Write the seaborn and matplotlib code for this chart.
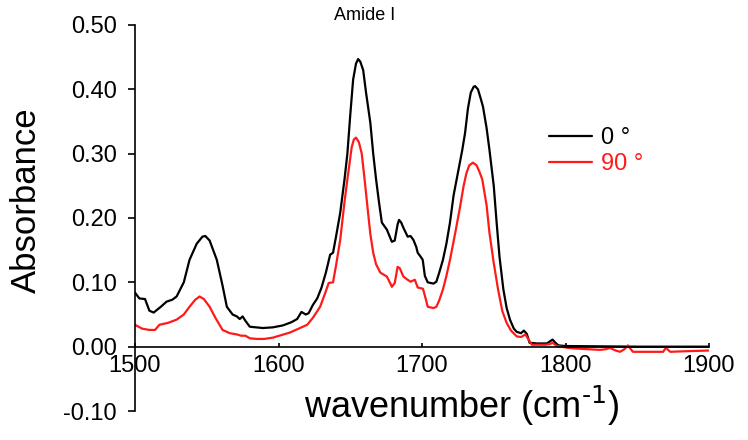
import numpy as np
import pandas as pd
import seaborn as sns
import matplotlib.pyplot as plt

# FTIR spectra (wavenumber, absorbance)
wn_0 = [1500, 1503, 1507, 1510, 1513, 1518, 1522, 1526, 1529, 1534, 1538, 1543, 1547, 1549,
        1552, 1557, 1561, 1564, 1568, 1571, 1573, 1575, 1577, 1580, 1589, 1596, 1603, 1609,
        1613, 1616, 1619, 1621, 1624, 1627, 1630, 1633, 1636, 1638, 1640, 1643, 1646, 1648,
        1650, 1652, 1654, 1655.5, 1657, 1659, 1661, 1664, 1666, 1668, 1670, 1672, 1675.5,
        1679, 1681, 1683, 1684, 1685.5, 1687, 1690, 1692, 1694, 1696, 1697, 1699, 1700.5,
        1702, 1704, 1706, 1708, 1710, 1712, 1714.6, 1717, 1719.5, 1722, 1725, 1728, 1730,
        1732, 1734, 1736, 1737, 1739, 1741, 1742.5, 1745, 1747, 1750, 1752, 1754, 1756.7,
        1759, 1761.3, 1764, 1766, 1769, 1771, 1773, 1775, 1780, 1787, 1789, 1791, 1793,
        1795, 1800, 1850, 1900]
abs_0 = [0.084, 0.075, 0.074, 0.056, 0.053, 0.062, 0.070, 0.073, 0.078, 0.100, 0.135, 0.160,
         0.171, 0.172, 0.165, 0.135, 0.095, 0.062, 0.050, 0.047, 0.043, 0.047, 0.040, 0.031,
         0.029, 0.030, 0.033, 0.038, 0.043, 0.054, 0.050, 0.052, 0.065, 0.075, 0.092, 0.115,
         0.143, 0.146, 0.170, 0.208, 0.260, 0.300, 0.360, 0.415, 0.440, 0.447, 0.443, 0.430,
         0.395, 0.348, 0.300, 0.260, 0.225, 0.193, 0.182, 0.163, 0.165, 0.190, 0.197, 0.193,
         0.185, 0.171, 0.172, 0.166, 0.155, 0.146, 0.140, 0.135, 0.110, 0.100, 0.099, 0.098,
         0.101, 0.115, 0.135, 0.160, 0.193, 0.235, 0.270, 0.305, 0.332, 0.370, 0.395, 0.404,
         0.405, 0.400, 0.385, 0.373, 0.340, 0.306, 0.250, 0.193, 0.140, 0.089, 0.060, 0.042,
         0.028, 0.023, 0.021, 0.025, 0.020, 0.006, 0.005, 0.005, 0.008, 0.011, 0.006, 0.002,
         0.001, 0.000, 0.000]

wn_90 = [1500, 1505, 1510, 1514, 1517, 1523, 1529, 1534, 1538, 1542, 1545, 1548, 1552, 1556,
         1561, 1566, 1571, 1574, 1577, 1580, 1585, 1590, 1596, 1602, 1608, 1614, 1620, 1624,
         1629, 1632, 1635, 1638, 1640, 1643, 1646, 1648, 1651, 1652.5, 1654, 1656, 1658, 1660,
         1662, 1664, 1666, 1668, 1671, 1675.5, 1678, 1679, 1681, 1683, 1684.5, 1687, 1690,
         1692, 1695, 1697, 1700.7, 1702.5, 1704, 1706, 1708, 1710, 1712, 1714.6, 1717, 1719.5,
         1723, 1726.5, 1729, 1731, 1733, 1735.5, 1738, 1740, 1742, 1745, 1747, 1750, 1753,
         1756, 1759, 1762, 1766, 1769, 1772, 1774, 1776.5, 1780, 1786, 1789, 1791, 1794, 1797,
         1802, 1808, 1816, 1824, 1828, 1831, 1835, 1838, 1841, 1843.5, 1845.5, 1847, 1860,
         1868, 1870, 1873, 1885, 1900]
abs_90 = [0.034, 0.028, 0.026, 0.026, 0.034, 0.037, 0.042, 0.050, 0.062, 0.073, 0.078, 0.074,
          0.062, 0.045, 0.026, 0.021, 0.019, 0.017, 0.017, 0.013, 0.012, 0.012, 0.014, 0.018,
          0.022, 0.028, 0.034, 0.045, 0.062, 0.080, 0.099, 0.100, 0.125, 0.166, 0.225, 0.260,
          0.310, 0.322, 0.325, 0.318, 0.300, 0.260, 0.217, 0.175, 0.146, 0.128, 0.115, 0.109,
          0.098, 0.093, 0.099, 0.124, 0.122, 0.109, 0.104, 0.101, 0.104, 0.092, 0.090, 0.075,
          0.062, 0.061, 0.060, 0.062, 0.072, 0.089, 0.110, 0.135, 0.175, 0.217, 0.250, 0.270,
          0.282, 0.286, 0.282, 0.272, 0.260, 0.220, 0.177, 0.130, 0.089, 0.055, 0.037, 0.025,
          0.016, 0.015, 0.019, 0.012, 0.003, 0.003, 0.003, 0.004, 0.006, 0.001, 0.000, -0.002,
          -0.003, -0.004, -0.005, -0.004, -0.002, -0.006, -0.008, -0.004, 0.002, -0.004,
          -0.008, -0.008, -0.008, -0.002, -0.008, -0.007, -0.006]

series_labels = ['0 °', '90 °']
series_colors = ['black', '#ff1a1a']
y_ticks = [-0.10, 0.00, 0.10, 0.20, 0.30, 0.40, 0.50]
x_ticks = [1500, 1600, 1700, 1800, 1900]

df = pd.concat([
    pd.DataFrame({'wavenumber': wn_0, 'absorbance': abs_0, 'angle': series_labels[0]}),
    pd.DataFrame({'wavenumber': wn_90, 'absorbance': abs_90, 'angle': series_labels[1]}),
])

sns.set_style('white')
plt.rcParams['font.family'] = ['Liberation Sans', 'DejaVu Sans']
plt.rcParams['mathtext.default'] = 'regular'
plt.rcParams['text.color'] = 'black'
plt.rcParams['axes.labelcolor'] = 'black'
plt.rcParams['xtick.color'] = 'black'
plt.rcParams['ytick.color'] = 'black'

fig = plt.figure(figsize=(7.48, 4.4), dpi=100)
ax = fig.add_axes([135 / 748, 1 - 411 / 440, 574 / 748, 386 / 440])

sns.lineplot(data=df, x='wavenumber', y='absorbance', hue='angle',
             palette=dict(zip(series_labels, series_colors)), linewidth=1.6,
             estimator=None, sort=False, ax=ax)

ax.set_xlim(1500, 1900)
ax.set_ylim(-0.10, 0.50)
ax.set_xticks(x_ticks)
ax.set_yticks(y_ticks)
ax.set_yticklabels([f'{v:.2f}' for v in y_ticks])

for s in ['top', 'right']:
    ax.spines[s].set_visible(False)
ax.spines['bottom'].set_position(('data', 0))
for s in ['left', 'bottom']:
    ax.spines[s].set_color('black')
    ax.spines[s].set_linewidth(1.2)

ax.tick_params(axis='y', direction='out', length=5, width=1.2, labelsize=17, pad=8, left=True)
ax.tick_params(axis='x', direction='in', length=3, width=1.2, labelsize=17, pad=6, bottom=True)

ax.set_xlabel(r'wavenumber (cm$^{\text{-1}}$)', fontsize=26)
ax.xaxis.set_label_coords(0.57, 0.07)
ax.set_ylabel('Absorbance', fontsize=25)
ax.yaxis.set_label_coords(-0.16, 0.547)

leg = ax.legend(loc='upper left', bbox_to_anchor=(0.685, 0.79), frameon=False,
                fontsize=17, handlelength=1.8, handletextpad=0.4, labelspacing=0.15,
                labelcolor='linecolor')
for line in leg.get_lines():
    line.set_linewidth(1.6)

fig.text(365 / 748, 1 - 15 / 440, 'Amide I', ha='center', va='center', fontsize=13)

fig.savefig('out.png', dpi=100)
